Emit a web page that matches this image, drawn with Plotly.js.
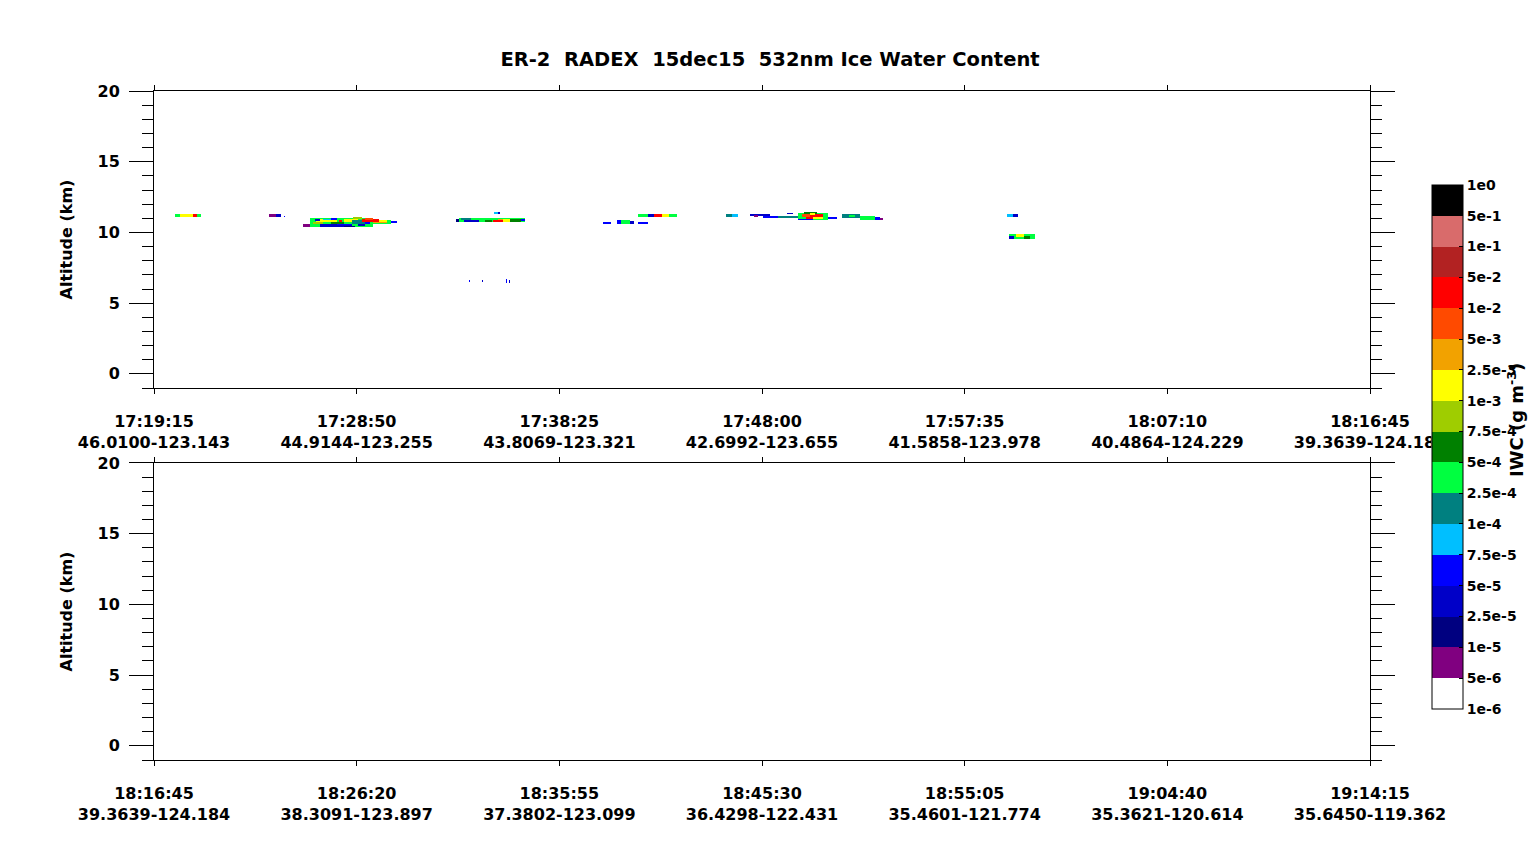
<!DOCTYPE html>
<html>
<head>
<meta charset="utf-8">
<script src="https://cdn.plot.ly/plotly-3.0.1.min.js"></script>
<style>html,body{margin:0;padding:0;background:#fff;}#chart{width:1540px;height:845px;}</style>
</head>
<body>
<div id="chart"></div>
<script>
// ---------- tick labels ----------
const topTimes = ["17:19:15","17:28:50","17:38:25","17:48:00","17:57:35","18:07:10","18:16:45"];
const topPos   = ["46.0100-123.143","44.9144-123.255","43.8069-123.321","42.6992-123.655","41.5858-123.978","40.4864-124.229","39.3639-124.184"];
const botTimes = ["18:16:45","18:26:20","18:35:55","18:45:30","18:55:05","19:04:40","19:14:15"];
const botPos   = ["39.3639-124.184","38.3091-123.897","37.3802-123.099","36.4298-122.431","35.4601-121.774","35.3621-120.614","35.6450-119.362"];
const tickSeconds = [0, 575, 1150, 1725, 2300, 2875, 3450]; // seconds from panel start
const panelSpan = 3450;

// ---------- colour bar ----------
const bandLabels = ["1e-6","5e-6","1e-5","2.5e-5","5e-5","7.5e-5","1e-4","2.5e-4","5e-4","7.5e-4","1e-3","2.5e-3","5e-3","1e-2","5e-2","1e-1","5e-1","1e0"];
const bandColors = ["#ffffff","#800080","#000080","#0000c8","#0000ff","#00bfff","#008080","#00ff40","#008000","#9fcd00","#ffff00","#f2a200","#ff4a00","#ff0000","#b22222","#d96b6b","#000000"];

// ---------- cloud observations, top panel ----------
// rows: [start s, end s, base km, top km, IWC band index]
const cloudA = [
  [60, 74, 11.15, 11.30, 7], [74, 111, 11.15, 11.30, 10], [111, 122, 11.15, 11.30, 13], [122, 133, 11.15, 11.30, 7]
];
const cloudB = [
  [326, 345, 11.10, 11.25, 1], [345, 360, 11.12, 11.25, 3], [368, 373, 11.10, 11.18, 4]
];
const cloudC = [
  [423, 445, 10.45, 10.56, 1],
  [443, 621, 10.45, 11.00, 7],
  [621, 672, 10.65, 10.85, 7],
  [672, 690, 10.68, 10.80, 4],
  [450, 480, 10.60, 10.72, 9],
  [460, 520, 10.72, 10.90, 10],
  [480, 500, 10.88, 10.98, 5],
  [500, 540, 10.58, 10.70, 8],
  [540, 580, 10.76, 10.95, 10],
  [470, 560, 10.45, 10.55, 3],
  [520, 560, 10.55, 10.62, 4],
  [540, 570, 10.38, 10.46, 2],
  [560, 600, 10.60, 10.85, 6],
  [565, 590, 11.00, 11.10, 9],
  [590, 640, 10.76, 10.90, 13],
  [600, 620, 10.90, 11.00, 12],
  [620, 660, 10.70, 10.78, 11],
  [640, 660, 10.78, 10.85, 10],
  [500, 520, 10.90, 11.00, 4],
  [580, 600, 10.50, 10.60, 3],
  [455, 470, 10.85, 10.95, 3],
  [525, 535, 10.80, 10.88, 13],
  [600, 612, 10.60, 10.70, 4]
];
const cloudD = [
  [857, 870, 10.80, 10.90, 2],
  [865, 1053, 10.80, 11.00, 7],
  [870, 900, 10.90, 11.00, 6],
  [880, 920, 10.76, 10.85, 3],
  [940, 960, 10.78, 10.88, 8],
  [962, 990, 10.78, 10.88, 13],
  [975, 990, 10.88, 10.95, 11],
  [990, 1010, 10.80, 10.90, 10],
  [1010, 1040, 10.80, 10.90, 8],
  [1040, 1053, 10.82, 10.92, 4],
  [967, 976, 11.30, 11.40, 5],
  [976, 982, 11.30, 11.40, 3]
];
const cloudLow = [
  [893, 896, 6.52, 6.62, 4], [930, 933, 6.52, 6.62, 3], [1000, 1003, 6.50, 6.70, 4], [1009, 1012, 6.45, 6.62, 3]
];
const cloudE = [
  [1274, 1297, 10.65, 10.75, 4],
  [1313, 1325, 10.65, 10.85, 4], [1325, 1350, 10.65, 10.85, 7], [1350, 1362, 10.65, 10.80, 3],
  [1373, 1401, 10.65, 10.75, 4],
  [1373, 1400, 11.15, 11.28, 7], [1400, 1420, 11.15, 11.28, 3], [1420, 1440, 11.15, 11.28, 13],
  [1440, 1460, 11.15, 11.28, 10], [1460, 1484, 11.15, 11.28, 7]
];
const cloudF = [
  [1623, 1640, 11.10, 11.30, 6], [1640, 1657, 11.12, 11.28, 5],
  [1691, 1748, 11.20, 11.30, 3], [1700, 1712, 11.10, 11.20, 1],
  [1728, 1770, 11.05, 11.18, 4],
  [1770, 1827, 11.05, 11.18, 6], [1796, 1813, 11.30, 11.36, 3],
  [1827, 1912, 10.90, 11.35, 7],
  [1850, 1900, 11.00, 11.25, 13],
  [1840, 1860, 11.10, 11.25, 12],
  [1870, 1900, 10.95, 11.05, 10],
  [1845, 1880, 11.35, 11.45, 8],
  [1860, 1875, 11.25, 11.35, 10],
  [1827, 1870, 10.88, 10.95, 4],
  [1912, 1938, 10.95, 11.10, 4],
  [1952, 2003, 11.05, 11.25, 6], [1970, 1990, 11.10, 11.20, 7],
  [2003, 2045, 10.90, 11.15, 7], [2045, 2060, 10.90, 11.05, 4], [2060, 2068, 10.90, 11.00, 1]
];
const cloudG = [
  [2420, 2436, 11.15, 11.25, 5], [2436, 2451, 11.15, 11.25, 3],
  [2428, 2499, 9.55, 9.85, 7], [2428, 2440, 9.55, 9.70, 3], [2445, 2470, 9.70, 9.85, 10], [2470, 2485, 9.60, 9.72, 8]
];

// ---------- build grid from the observations ----------
const dt = 3, dz = 0.05, altMin = 6.3, altMax = 11.6;
const xs = [], ys = [];
for (let t = dt / 2; t < panelSpan; t += dt) xs.push(t);
for (let a = altMin; a <= altMax + 1e-9; a += dz) ys.push(+a.toFixed(3));
const z = ys.map(() => xs.map(() => null));
[cloudA, cloudB, cloudC, cloudD, cloudLow, cloudE, cloudF, cloudG].forEach(group => {
  group.forEach(([t0, t1, b, tp, band]) => {
    for (let j = 0; j < ys.length; j++) {
      if (ys[j] < b - 1e-9 || ys[j] > tp + 1e-9) continue;
      for (let i = 0; i < xs.length; i++) {
        if (xs[i] >= t0 && xs[i] <= t1) z[j][i] = band + 0.5;
      }
    }
  });
});

const nb = bandColors.length;
const colorscale = [];
bandColors.forEach((c, i) => { colorscale.push([i / nb, c]); colorscale.push([(i + 1) / nb, c]); });

const FONT = {family: "DejaVu Sans", size: 16, color: "#000", weight: "bold"};
const bandTickVals = bandLabels.map((_, i) => i);

const traces = [
  {
    type: "heatmap", x: xs, y: ys, z: z, xaxis: "x", yaxis: "y",
    zmin: 0, zmax: nb, colorscale: colorscale, zsmooth: false, hoverinfo: "skip",
    colorbar: {
      tickmode: "array", tickvals: bandTickVals, ticktext: bandLabels,
      ticks: "inside", ticklen: 4, tickcolor: "#000",
      outlinecolor: "#000", outlinewidth: 1,
      thickness: 31, thicknessmode: "pixels", len: 524, lenmode: "pixels",
      x: 1.051, xanchor: "left", xpad: 0, y: 0.468, yanchor: "middle", ypad: 0,
      bgcolor: "#ffffff",
      tickfont: {family: "DejaVu Sans", size: 14, color: "#000", weight: "bold"}
    }
  },
  {type: "scatter", x: [], y: [], xaxis: "x2", yaxis: "y2", showlegend: false, hoverinfo: "skip"}
];

function xAxis(anchor, times, pos) {
  return {
    domain: [0, 1], anchor: anchor, range: [0, panelSpan],
    tickmode: "array", tickvals: tickSeconds,
    ticktext: times.map((t, i) => t + "<br>" + pos[i]),
    ticks: "outside", ticklen: 5, tickcolor: "#000", tickwidth: 1,
    mirror: "allticks", showline: true, linecolor: "#000", linewidth: 1,
    showgrid: false, zeroline: false, tickfont: FONT, ticklabelstandoff: 14
  };
}
function yAxis(anchor, domain) {
  return {
    domain: domain, anchor: anchor, range: [-1, 20],
    tickmode: "linear", tick0: 0, dtick: 5,
    ticks: "outside", ticklen: 24, tickcolor: "#000", tickwidth: 1,
    minor: {tickmode: "linear", tick0: 0, dtick: 1, ticks: "outside", ticklen: 11, tickcolor: "#000", showgrid: false},
    mirror: "allticks", showline: true, linecolor: "#000", linewidth: 1,
    showgrid: false, zeroline: false, tickfont: FONT, ticklabelstandoff: 6,
    title: {text: "Altitude (km)", font: FONT, standoff: 20}
  };
}

const layout = {
  width: 1540, height: 845,
  paper_bgcolor: "#fff", plot_bgcolor: "#fff",
  font: FONT,
  margin: {l: 154, r: 170, t: 91, b: 85},
  showlegend: false,
  title: {text: "ER-2\u00a0\u00a0RADEX\u00a0\u00a015dec15\u00a0\u00a0532nm Ice Water Content",
          font: {family: "DejaVu Sans", size: 19.5, color: "#000", weight: "bold"},
          x: 0.5, xref: "container", y: 1 - 59 / 845, yref: "container", yanchor: "middle"},
  xaxis: xAxis("y", topTimes, topPos),
  yaxis: yAxis("x", [0.556, 1]),
  xaxis2: xAxis("y2", botTimes, botPos),
  yaxis2: yAxis("x2", [0, 0.444]),
  annotations: [{
    text: "IWC (g m<sup>-3</sup>)", textangle: -90, showarrow: false,
    xref: "paper", yref: "paper", x: 1.12, y: 0.508, xanchor: "center", yanchor: "middle",
    font: {family: "DejaVu Sans", size: 18, color: "#000", weight: "bold"}
  }]
};

Plotly.newPlot("chart", traces, layout, {displayModeBar: false, staticPlot: true});
</script>
</body>
</html>
